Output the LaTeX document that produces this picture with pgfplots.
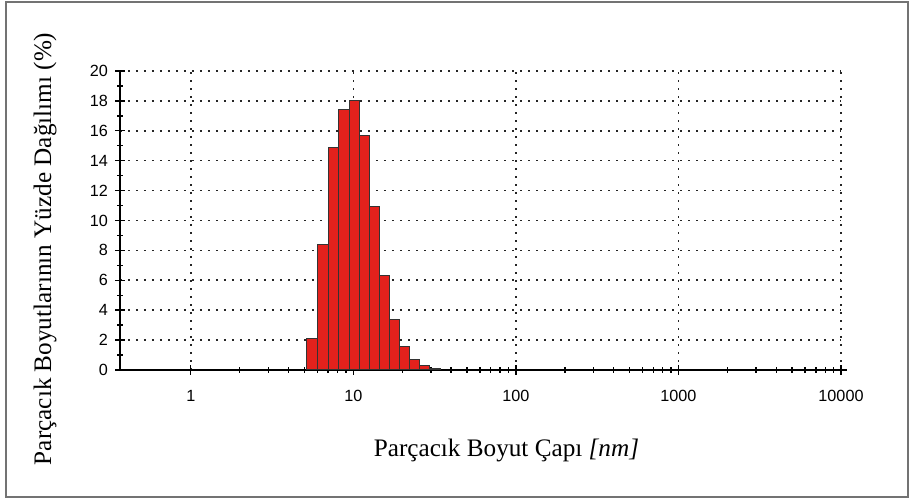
\documentclass[border=0pt]{standalone}
\usepackage{fontspec}
\setmainfont{Liberation Serif}
\setsansfont{Liberation Sans}
\usepackage{pgfplots}
\pgfplotsset{compat=1.18}
\definecolor{barred}{HTML}{E3211C}
\begin{document}
\begin{tikzpicture}[x=0.5pt,y=0.5pt]
% bounding box: full 910x502 px, axis lower-left at px (120,370)
\useasboundingbox (-120,-132) rectangle (790,370);
\draw[black!55, line width=1pt] (-114,-127) rectangle (788,368);
\begin{axis}[
  at={(0,0)}, anchor=south west,
  scale only axis, width=360.5pt, height=149.5pt,
  xmode=log, xmin=0.367, xmax=10000,
  ymin=0, ymax=20,
  axis x line=bottom, axis y line=left,
  axis line style={-, line width=0.9pt, black},
  x axis line style={shorten >=-3pt},
  xtick={1,10,100,1000,10000},
  xticklabels={1,10,100,1000,10000},
  minor xtick={2,3,4,5,6,7,8,9,20,30,40,50,60,70,80,90,200,300,400,500,600,700,800,900,2000,3000,4000,5000,6000,7000,8000,9000},
  ytick={0,2,...,20},
  minor ytick={1,3,...,19},
  tick align=center,
  major tick length=5pt, minor tick length=3pt,
  tick style={black, line width=0.7pt},
  grid=major,
  major grid style={black!85, line width=0.8pt, dash pattern=on 0.8pt off 3.2pt},
  minor grid style={draw=none},
  ticklabel style={font=\sffamily\fontsize{8.1}{9}\selectfont},
  /pgf/number format/assume math mode=true,
  xticklabel style={yshift=-4pt},
  xlabel={Parçacık Boyut Çapı \textit{[nm]}},
  xlabel style={font=\fontsize{12.6}{14}\selectfont, at={(axis description cs:0.536,0)}, anchor=center, yshift=-40pt},
  ylabel={Parçacık Boyutlarının Yüzde Dağılımı (\%)},
  ylabel style={font=\fontsize{12.6}{14}\selectfont, at={(axis description cs:0,0.405)}, anchor=center, yshift=37.5pt},
]
\addplot[ybar interval, fill=barred, draw=black!80, line width=0.5pt] coordinates {
(5.17,2.1)
(5.99,8.4)
(7.03,14.85)
(8.13,17.45)
(9.45,18.0)
(10.9,15.7)
(12.66,10.95)
(14.58,6.35)
(16.8,3.35)
(19.35,1.55)
(22.3,0.67)
(25.7,0.28)
(29.5,0.12)
(34.5,0)
};
\end{axis}
\end{tikzpicture}
\end{document}
